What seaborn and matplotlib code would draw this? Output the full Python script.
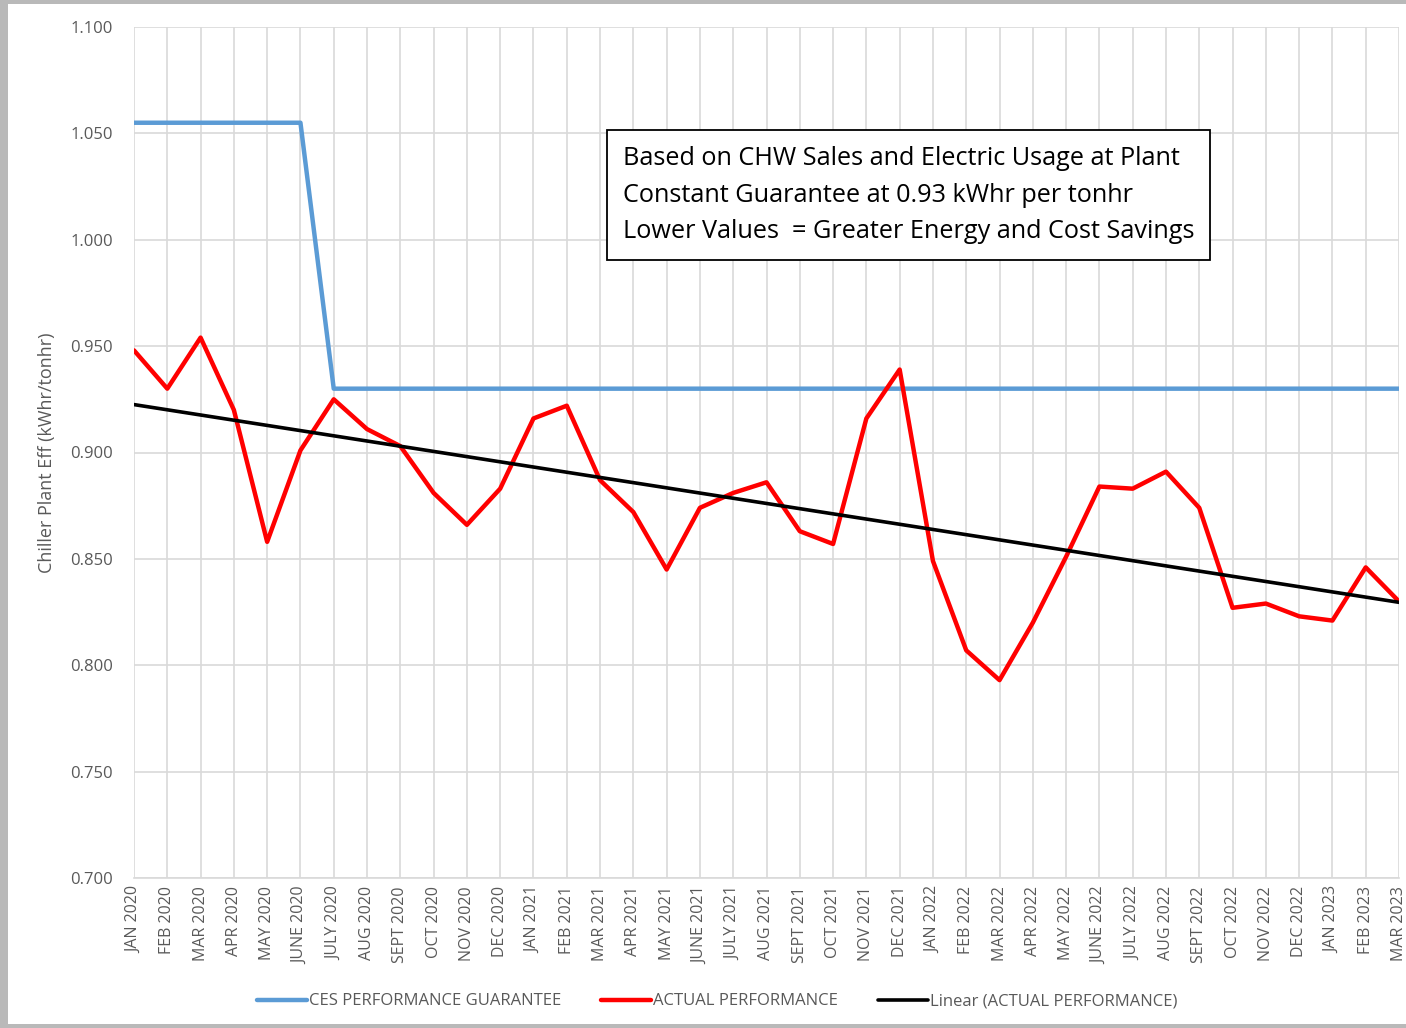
import numpy as np
import pandas as pd
import matplotlib
matplotlib.use("Agg")
import matplotlib.pyplot as plt
import seaborn as sns
from matplotlib.ticker import FormatStrFormatter

months = ["JAN 2020", "FEB 2020", "MAR 2020", "APR 2020", "MAY 2020", "JUNE 2020",
          "JULY 2020", "AUG 2020", "SEPT 2020", "OCT 2020", "NOV 2020", "DEC 2020",
          "JAN 2021", "FEB 2021", "MAR 2021", "APR 2021", "MAY 2021", "JUNE 2021",
          "JULY 2021", "AUG 2021", "SEPT 2021", "OCT 2021", "NOV 2021", "DEC 2021",
          "JAN 2022", "FEB 2022", "MAR 2022", "APR 2022", "MAY 2022", "JUNE 2022",
          "JULY 2022", "AUG 2022", "SEPT 2022", "OCT 2022", "NOV 2022", "DEC 2022",
          "JAN 2023", "FEB 2023", "MAR 2023"]

guarantee = [1.055] * 6 + [0.930] * 33

actual = [0.948, 0.930, 0.954, 0.920, 0.858, 0.901, 0.925, 0.911, 0.903, 0.881,
          0.866, 0.883, 0.916, 0.922, 0.887, 0.872, 0.845, 0.874, 0.881, 0.886,
          0.863, 0.857, 0.916, 0.939, 0.849, 0.807, 0.793, 0.820, 0.851, 0.884,
          0.883, 0.891, 0.874, 0.827, 0.829, 0.823, 0.821, 0.846, 0.830]

idx = np.arange(len(months))
slope, icpt = np.polyfit(idx, actual, 1)
trend = slope * idx + icpt

df = pd.DataFrame({"i": idx, "guar": guarantee, "act": actual, "trend": trend})

sns.set_style("white")
plt.rcParams['font.family'] = ['Open Sans', 'DejaVu Sans']

fig = plt.figure(figsize=(14.06, 10.28), dpi=100)
fig.patch.set_facecolor("#b9b9b9")
# white page inside the grey frame
bg = fig.add_axes([8 / 1406, 4 / 1028, 1 - 8 / 1406, 1 - 8 / 1028], zorder=-5)
bg.set_facecolor("white")
bg.set_xticks([])
bg.set_yticks([])
for s in bg.spines.values():
    s.set_visible(False)

ax = fig.add_axes([134 / 1406, 1 - 878 / 1028, (1399 - 134) / 1406, (878 - 27) / 1028])
ax.set_facecolor("white")

sns.lineplot(data=df, x="i", y="guar", ax=ax, color="#5b9bd5", linewidth=3.2,
             label="CES PERFORMANCE GUARANTEE")
sns.lineplot(data=df, x="i", y="act", ax=ax, color="#ff0000", linewidth=3.2,
             label="ACTUAL PERFORMANCE")
sns.lineplot(data=df, x="i", y="trend", ax=ax, color="black", linewidth=2.6,
             label="Linear (ACTUAL PERFORMANCE)")

ax.set_xlim(0, len(months) - 1)
ax.set_ylim(0.7, 1.1)
ax.set_yticks(np.arange(0.7, 1.1001, 0.05))
ax.yaxis.set_major_formatter(FormatStrFormatter("%.3f"))
ax.set_xticks(idx)
ax.set_xticklabels(months, rotation=90, fontsize=11.5, color="#595959")
ax.tick_params(axis="y", labelsize=12, colors="#595959", length=0, pad=15)
ax.tick_params(axis="x", length=0, pad=6)
ax.grid(True, color="#d9d9d9", linewidth=1.2)
ax.set_axisbelow(True)
for s in ["top", "right", "left"]:
    ax.spines[s].set_visible(False)
ax.spines["bottom"].set_color("#d9d9d9")
ax.spines["bottom"].set_linewidth(1.2)

ax.set_xlabel("")
ax.set_ylabel("Chiller Plant Eff (kWhr/tonhr)", fontsize=13, color="#595959", labelpad=10)

ax.text(0.3865, 0.86,
        "Based on CHW Sales and Electric Usage at Plant\n"
        "Constant Guarantee at 0.93 kWhr per tonhr\n"
        "Lower Values  = Greater Energy and Cost Savings",
        transform=ax.transAxes, fontsize=18.2, color="black", va="top", ha="left",
        linespacing=1.6,
        bbox=dict(boxstyle="square,pad=0.62", facecolor="white", edgecolor="black",
                  linewidth=1.3))

leg = ax.legend(loc="center", bbox_to_anchor=(0.461, -0.145), ncol=3, frameon=False,
                fontsize=12, handlelength=3.0, handletextpad=0.1, columnspacing=2.4)
for t in leg.get_texts():
    t.set_color("#595959")

fig.savefig("out.png", dpi=100, facecolor=fig.get_facecolor())
